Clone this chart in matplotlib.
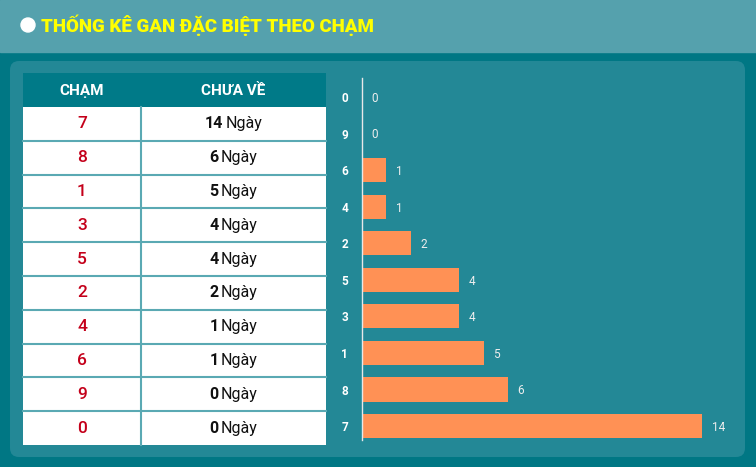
import matplotlib
matplotlib.use("Agg")
import matplotlib.pyplot as plt
from matplotlib.patches import Rectangle, FancyBboxPatch, Circle

# data
title = "THỐNG KÊ GAN ĐẶC BIỆT THEO CHẠM"
col_headers = ["CHẠM", "CHƯA VỀ"]
cham = ["7", "8", "1", "3", "5", "2", "4", "6", "9", "0"]
days = [14, 6, 5, 4, 4, 2, 1, 1, 0, 0]
unit = "Ngày"

# colours
HEAD_BG = "#55a1ad"
OUTER_BG = "#007784"
PANEL_BG = "#238896"
TABLE_HEAD = "#007a88"
GRID = "#5aa9b3"
BAR = "#ff9155"

plt.rcParams["font.family"] = ["Roboto", "DejaVu Sans"]

W, H = 756, 467
fig = plt.figure(figsize=(W / 100, H / 100), dpi=100)
fig.patch.set_facecolor(OUTER_BG)

# background axes in pixel units
bg = fig.add_axes([0, 0, 1, 1])
bg.set_xlim(0, W)
bg.set_ylim(H, 0)
bg.axis("off")
bg.add_patch(Rectangle((0, 0), W, 52, color=HEAD_BG))
bg.add_patch(FancyBboxPatch((10, 61), 735, 396,
                            boxstyle="round,pad=0,rounding_size=9",
                            color=PANEL_BG, lw=0))
bg.add_patch(Circle((28, 25), 7, color="white"))
bg.text(41, 25, title, color="#ffff00", fontsize=13.5, fontweight="heavy",
        va="center", ha="left")

# table
tx0, tx1, tcol = 23, 326, 141
ty0, thead = 73, 34
row_h = (445 - 107) / len(cham)
bg.add_patch(Rectangle((tx0, ty0), tx1 - tx0, thead, color=TABLE_HEAD, lw=0))
bg.text((tx0 + tcol) / 2, ty0 + thead / 2 + 1, col_headers[0], color="white",
        fontsize=11, fontweight="bold", ha="center", va="center")
bg.text((tcol + tx1) / 2, ty0 + thead / 2 + 1, col_headers[1], color="white",
        fontsize=11, fontweight="bold", ha="center", va="center")

fig.canvas.draw()
renderer = fig.canvas.get_renderer()
for i, (c, d) in enumerate(zip(cham, days)):
    y = ty0 + thead + i * row_h
    bg.add_patch(Rectangle((tx0, y), tx1 - tx0, row_h, facecolor="white",
                           edgecolor="none"))
    if i < len(cham) - 1:
        bg.plot([tx0, tx1], [y + row_h, y + row_h], color=GRID, lw=1.5)
    bg.text((tx0 + tcol) / 2, y + row_h / 2, c, color="#c4001a",
            fontsize=12.5, fontweight="medium", ha="center", va="center")
    # number bold, unit regular, centred together
    cx = (tcol + tx1) / 2
    t1 = bg.text(0, y + row_h / 2, str(d), color="#111111", fontsize=11.5,
                 fontweight="bold", ha="left", va="center")
    t2 = bg.text(0, y + row_h / 2, unit, color="#111111", fontsize=11.5,
                 ha="left", va="center")
    w1 = t1.get_window_extent(renderer).width
    w2 = t2.get_window_extent(renderer).width
    gap = 2.5
    start = cx - (w1 + gap + w2) / 2
    t1.set_x(start)
    t2.set_x(start + w1 + gap)
bg.plot([tcol, tcol], [ty0 + thead, 445], color=GRID, lw=1.5)

# bar chart
ax = fig.add_axes([362 / W, 1 - 440 / H, (740 - 362) / W, (440 - 78) / H])
ax.set_facecolor("none")
pos = list(range(len(cham)))
ax.barh(pos, days, height=0.66, color=BAR)
ax.set_xlim(0, 378 / 24.3)
ax.set_ylim(-0.38, 9.52)
ax.set_yticks(pos)
ax.set_yticklabels(cham, color="white", fontweight="bold", fontsize=8.5)
ax.tick_params(axis="y", length=0, pad=10)
ax.set_xticks([])
for s in ["top", "right", "bottom"]:
    ax.spines[s].set_visible(False)
ax.spines["left"].set_color("#e8e8e8")
ax.spines["left"].set_linewidth(1)
for p, v in zip(pos, days):
    ax.annotate(str(v), (v, p), xytext=(7, -1), textcoords="offset points",
                color="#eeeeee", fontsize=8.5, va="center", ha="left")

fig.savefig("out.png", dpi=100, facecolor=fig.get_facecolor())
